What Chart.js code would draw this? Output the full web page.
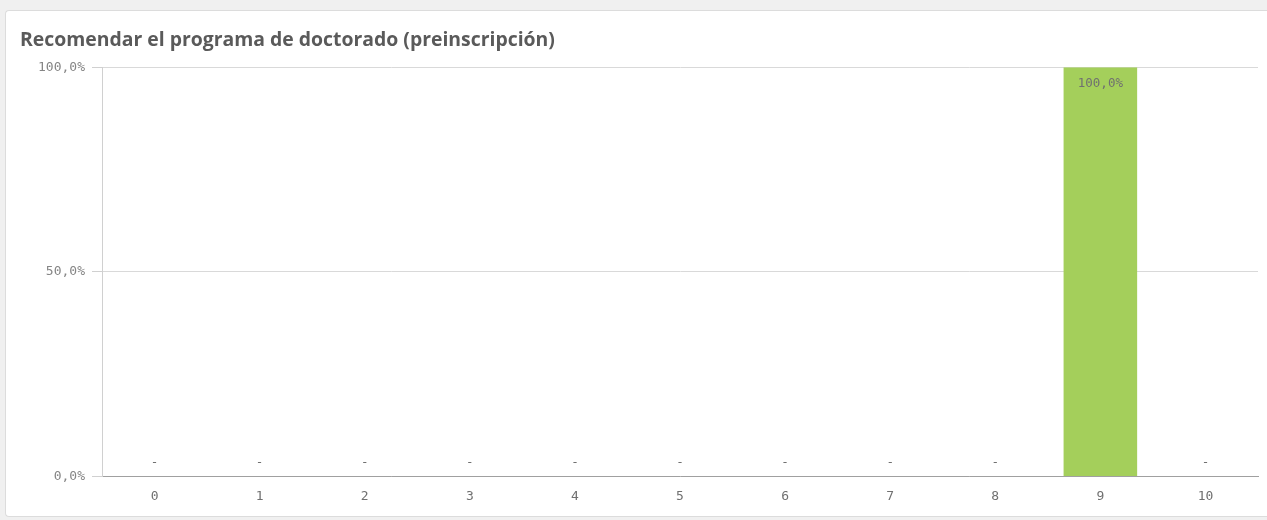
<!DOCTYPE html>
<html><head><meta charset="utf-8">
<script src="https://cdn.jsdelivr.net/npm/chart.js@4"></script>
<style>
html,body{margin:0;padding:0;background:#f0f0f0;width:1267px;height:520px;overflow:hidden;}
#card{position:absolute;left:5px;top:10px;width:1262px;height:507px;background:#fff;border:1px solid #dcdcdc;border-right:none;border-radius:4px 0 0 4px;box-sizing:border-box;}
#wrap{position:absolute;left:0;top:0;width:1261px;height:505px;}
</style></head>
<body>
<div id="card"><div id="wrap"><canvas id="c"></canvas></div></div>
<script>
const titleText = 'Recomendar el programa de doctorado (preinscripción)';
const categories = ['0','1','2','3','4','5','6','7','8','9','10'];
const values = [0,0,0,0,0,0,0,0,0,1,0];
const yTicks = [0, 0.5, 1];

function fmt(v){ return (v*100).toFixed(1).replace('.', ',') + '%'; }

const labelPlugin = {
  id: 'barLabels',
  afterDatasetsDraw(chart){
    const ctx = chart.ctx;
    const meta = chart.getDatasetMeta(0);
    const yScale = chart.scales.y;
    ctx.save();
    ctx.font = '12.5px "DejaVu Sans Mono"';
    ctx.fillStyle = '#707070';
    ctx.textAlign = 'center';
    ctx.textBaseline = 'middle';
    meta.data.forEach((bar, i) => {
      const v = values[i];
      if (v === 0) {
        ctx.fillText('-', bar.x, yScale.getPixelForValue(0) - 14);
      } else {
        ctx.fillText(fmt(v), bar.x, bar.y + 16);
      }
    });
    ctx.restore();
  }
};

new Chart(document.getElementById('c'), {
  type: 'bar',
  data: {
    labels: categories,
    datasets: [{
      data: values,
      backgroundColor: '#a4cf5b',
      barPercentage: 0.7,
      categoryPercentage: 1.0
    }]
  },
  options: {
    responsive: true,
    maintainAspectRatio: false,
    animation: false,
    layout: { padding: { left: 14, right: 9, top: 8, bottom: 0 } },
    plugins: {
      legend: { display: false },
      tooltip: { enabled: false },
      title: {
        display: true,
        text: titleText,
        align: 'start',
        color: '#5a5a5a',
        font: { family: 'Open Sans', size: 19.4, weight: 'bold' },
        padding: { top: 10, bottom: 15 }
      }
    },
    scales: {
      x: {
        grid: { display: false, drawTicks: false },
        border: { display: true, color: '#a0a0a0', width: 1 },
        ticks: { color: '#707070', font: { family: 'DejaVu Sans Mono', size: 13 }, padding: 12 }
      },
      y: {
        min: 0, max: 1,
        afterFit(scale){ scale.width = 82; },
        afterBuildTicks(scale){ scale.ticks = yTicks.map(v => ({ value: v })); },
        grid: { color: '#d9d9d9', tickLength: 10, drawTicks: true, tickColor: '#d0d0d0' },
        border: { display: true, color: '#d0d0d0' },
        ticks: {
          color: '#858585',
          font: { family: 'DejaVu Sans Mono', size: 13 },
          padding: 7,
          callback: (v) => fmt(v)
        }
      }
    }
  },
  plugins: [labelPlugin]
});
</script>
</body></html>
